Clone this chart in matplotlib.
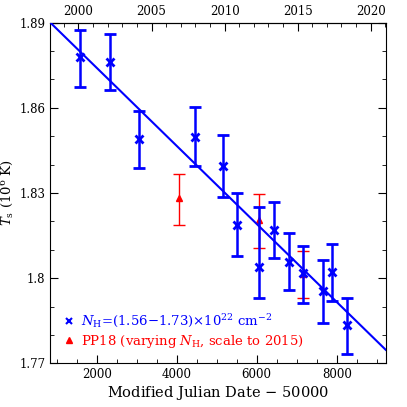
import numpy as np
import matplotlib
matplotlib.use("Agg")
import matplotlib.pyplot as plt
from matplotlib.lines import Line2D
from matplotlib.ticker import MultipleLocator, FixedLocator

# blue points: N_H fixed
mjd_blue = [1590, 2340, 3065, 4465, 5158, 5508, 6065, 6440, 6800, 7150, 7665, 7890, 8265]
ts_blue = [1.8778, 1.8760, 1.8489, 1.8497, 1.8396, 1.8187, 1.8040, 1.8170, 1.8058,
           1.8017, 1.7955, 1.8020, 1.7835]
err_blue_hi = [1.8874, 1.8860, 1.8590, 1.8604, 1.8504, 1.8299, 1.8250, 1.8269, 1.8158,
               1.8114, 1.8064, 1.8120, 1.7931]
err_blue_lo = [1.8675, 1.8662, 1.8389, 1.8396, 1.8285, 1.8077, 1.7929, 1.8070, 1.7957,
               1.7913, 1.7843, 1.7919, 1.7733]

# red points: PP18
mjd_red = [4050, 6065, 7150]
ts_red = [1.8282, 1.8204, 1.8014]
err_red_hi = [1.8367, 1.8295, 1.8097]
err_red_lo = [1.8187, 1.8105, 1.7929]

# linear fit T = a + b * (MJD - 50000)
fit_a = 1.9016
fit_b = -1.375e-5

xlim = (840, 9225)
ylim = (1.77, 1.89)
year_ticks = [2000, 2005, 2010, 2015, 2020]

plt.rcParams["font.family"] = ["DejaVu Serif"]
plt.rcParams["mathtext.fontset"] = "dejavuserif"

fig = plt.figure(figsize=(4.07, 4.07), dpi=100)
ax = fig.add_axes([0.1236, 0.1074, 0.8241, 0.8368])

yb = np.array(ts_blue)
ax.errorbar(mjd_blue, yb,
            yerr=[yb - np.array(err_blue_lo), np.array(err_blue_hi) - yb],
            fmt="x", color="#0000ff", ms=5.5, mew=2, elinewidth=1.8,
            capsize=4, capthick=1.8, zorder=3)

yr = np.array(ts_red)
ax.errorbar(mjd_red, yr,
            yerr=[yr - np.array(err_red_lo), np.array(err_red_hi) - yr],
            fmt="^", color="#ff0000", ms=5, elinewidth=1.0,
            capsize=4, capthick=1.0, zorder=2)

xs = np.array(xlim)
ax.plot(xs, fit_a + fit_b * xs, color="#0000ff", lw=1.5, zorder=4)

ax.set_xlim(*xlim)
ax.set_ylim(*ylim)
ax.xaxis.set_major_locator(MultipleLocator(2000))
ax.xaxis.set_minor_locator(MultipleLocator(500))
ax.yaxis.set_minor_locator(MultipleLocator(0.01))
ax.set_yticks([1.77, 1.8, 1.83, 1.86, 1.89])
ax.set_yticklabels(["1.77", "1.8", "1.83", "1.86", "1.89"])
ax.tick_params(which="both", direction="in", right=True, top=False, labelsize=8.5)
ax.tick_params(which="major", length=6)
ax.tick_params(which="minor", length=3)

# top axis in calendar years
def mjd_to_year(x):
    return 2000 + (x - 1544.5) / 365.25

def year_to_mjd(y):
    return 1544.5 + (y - 2000) * 365.25

top = ax.secondary_xaxis("top", functions=(mjd_to_year, year_to_mjd))
top.xaxis.set_major_locator(FixedLocator(year_ticks))
top.xaxis.set_minor_locator(FixedLocator(list(range(1998, 2022))))
top.tick_params(which="both", direction="in", labelsize=8.5)
top.tick_params(which="major", length=6)
top.tick_params(which="minor", length=3)

ax.set_xlabel("Modified Julian Date $-$ 50000", fontsize=10.5, labelpad=2)
ax.set_ylabel(r"$T_{\rm s}$ (10$^6$ K)", fontsize=9.5)
ax.yaxis.set_label_coords(-0.103, 0.5)

handles = [
    Line2D([], [], ls="none", marker="x", color="#0000ff", ms=5, mew=1.5),
    Line2D([], [], ls="none", marker="^", color="#ff0000", ms=5),
]
labels = [
    r"$N_{\rm H}$=(1.56$-$1.73)$\times$10$^{22}$ cm$^{-2}$",
    r"PP18 (varying $N_{\rm H}$, scale to 2015)",
]
leg = ax.legend(handles, labels, loc="lower left", frameon=False, fontsize=9.5,
                handlelength=0.8, handletextpad=0.5, borderaxespad=0.6,
                labelspacing=0.25)
for txt, c in zip(leg.get_texts(), ["#0000ff", "#ff0000"]):
    txt.set_color(c)

fig.savefig("out.png", dpi=100)
